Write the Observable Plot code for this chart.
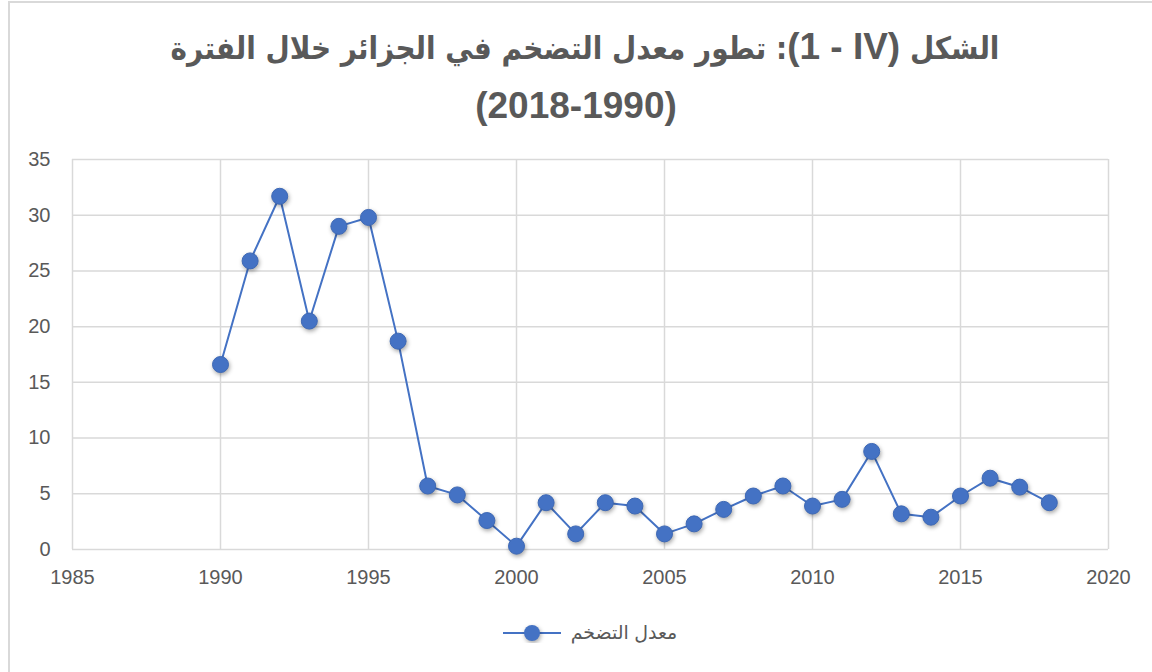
<!DOCTYPE html>
<html>
<head>
<meta charset="utf-8">
<script src="https://cdn.jsdelivr.net/npm/d3@7"></script>
<script src="https://cdn.jsdelivr.net/npm/@observablehq/plot@0.6"></script>
<style>
  html, body { margin: 0; padding: 0; background: #fff; }
  #frame { position: absolute; left: 8px; top: 1px; width: 1160px; height: 680px;
           border-left: 2px solid #d9d9d9; border-top: 2px solid #d9d9d9; box-sizing: border-box; }
  #wrap { position: absolute; left: 0; top: 0; width: 1152px; height: 672px; }
  #title { position: absolute; left: 0; top: 18px; width: 1152px; text-align: center;
           font-weight: bold; color: #595959; }
  #title .l1 { font-family: "DejaVu Sans Condensed", "DejaVu Sans", sans-serif; font-size: 31px;
               line-height: 58px; direction: rtl; position: relative; left: 9px; }
  #title .l1 .ref { font-family: "Liberation Sans", Arial, sans-serif; font-size: 37px; }
  #title .l2 { font-family: "Liberation Sans", Arial, sans-serif; font-size: 37px; line-height: 58px; direction: ltr; }
  #chart { position: absolute; left: 0; top: 140px; }
  #legend { position: absolute; left: 0; top: 621px; width: 1152px; display: flex; justify-content: center;
            align-items: center; gap: 10px; font-family: "Liberation Sans", Arial, "DejaVu Sans", sans-serif;
            font-size: 19px; color: #595959; padding-left: 28px; box-sizing: border-box; }
  .dots circle { filter: drop-shadow(1px 2px 2px rgba(0,0,0,0.35)); }
</style>
</head>
<body>
<div id="frame"></div>
<div id="wrap">
  <div id="title"></div>
  <div id="chart"></div>
  <div id="legend"></div>
</div>
<script>
const titleStart = "الشكل ";
const titleRef = "(1 - IV)";
const titleEnd = ": تطور معدل التضخم في الجزائر خلال الفترة";
const titleLine2 = "(2018-1990)";
const seriesName = "معدل التضخم";

const years = [1990,1991,1992,1993,1994,1995,1996,1997,1998,1999,2000,2001,2002,2003,2004,2005,2006,2007,2008,2009,2010,2011,2012,2013,2014,2015,2016,2017,2018];
const inflation = [16.6,25.9,31.7,20.5,29.0,29.8,18.7,5.7,4.9,2.6,0.3,4.2,1.4,4.2,3.9,1.4,2.3,3.6,4.8,5.7,3.9,4.5,8.8,3.2,2.9,4.8,6.4,5.6,4.2];
const xTicks = [1985,1990,1995,2000,2005,2010,2015,2020];
const yTicks = [0,5,10,15,20,25,30,35];

const color = "#4472C4";
const gridColor = "#d9d9d9";
const textColor = "#595959";

const t = document.getElementById("title");
const l1 = document.createElement("div");
l1.className = "l1";
l1.appendChild(document.createTextNode(titleStart));
const ref = document.createElement("span");
ref.className = "ref";
ref.dir = "ltr";
ref.style.unicodeBidi = "isolate";
ref.textContent = titleRef;
l1.appendChild(ref);
l1.appendChild(document.createTextNode(titleEnd));
const l2 = document.createElement("div");
l2.className = "l2";
l2.textContent = titleLine2;
t.appendChild(l1); t.appendChild(l2);

const data = years.map((y, i) => ({year: y, value: inflation[i]}));

const plot = Plot.plot({
  width: 1152,
  height: 460,
  marginLeft: 72,
  marginRight: 44,
  marginTop: 19,
  marginBottom: 51,
  style: {fontFamily: "'Liberation Sans', Arial, sans-serif", fontSize: "20px", color: textColor, background: "transparent"},
  x: {domain: [1985, 2020], label: null},
  y: {domain: [0, 35], label: null},
  marks: [
    Plot.gridX(xTicks, {stroke: gridColor, strokeOpacity: 1, strokeWidth: 1.5}),
    Plot.gridY(yTicks, {stroke: gridColor, strokeOpacity: 1, strokeWidth: 1.5}),
    Plot.axisX({ticks: xTicks, tickFormat: d => String(d), tickSize: 0, tickPadding: 20, fill: textColor, fontSize: 20}),
    Plot.axisY({ticks: yTicks, tickSize: 0, tickPadding: 22, fill: textColor, fontSize: 20}),
    Plot.line(data, {x: "year", y: "value", stroke: color, strokeWidth: 2}),
    Plot.dot(data, {x: "year", y: "value", r: 8, fill: color, stroke: "#3d68b5", strokeWidth: 1, className: "dots"})
  ]
});
document.getElementById("chart").appendChild(plot);

const lg = document.getElementById("legend");
const sw = d3.create("svg").attr("width", 58).attr("height", 20);
sw.append("line").attr("x1", 0).attr("x2", 58).attr("y1", 10).attr("y2", 10).attr("stroke", color).attr("stroke-width", 2);
sw.append("circle").attr("cx", 29).attr("cy", 10).attr("r", 8).attr("fill", color)
  .style("filter", "drop-shadow(1px 2px 2px rgba(0,0,0,0.35))");
lg.appendChild(sw.node());
const lt = document.createElement("span");
lt.textContent = seriesName;
lt.dir = "rtl";
lg.appendChild(lt);
</script>
</body>
</html>
